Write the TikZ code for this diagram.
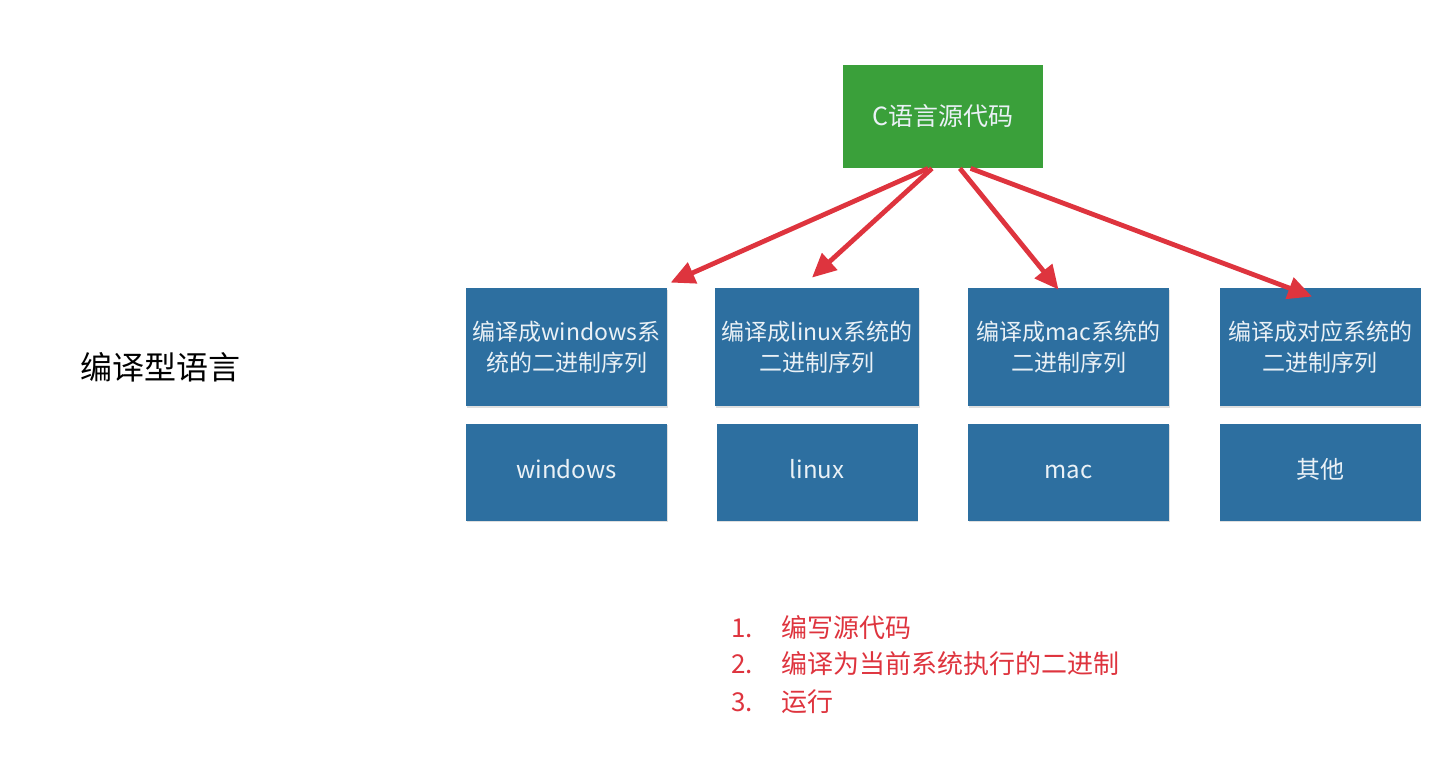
\documentclass[tikz,border=0pt]{standalone}
\usepackage{fontspec}
\setmainfont{Noto Sans CJK SC}
\usetikzlibrary{arrows.meta,positioning,shadows}

\definecolor{srcgreen}{RGB}{58,160,58}
\definecolor{sysblue}{RGB}{45,111,160}
\definecolor{arrowred}{RGB}{222,52,62}
\definecolor{boxtext}{RGB}{234,241,246}

\begin{document}
\begin{tikzpicture}[x=0.5pt, y=-0.5pt,
  source/.style={fill=srcgreen, minimum width=100pt, minimum height=51.5pt,
                 text=boxtext, font=\fontsize{12.5}{15}\selectfont},
  binary/.style={fill=sysblue, minimum width=100.5pt, minimum height=59pt,
                 align=center, text=boxtext, font=\fontsize{11.5}{15.5}\selectfont,
                 drop shadow={opacity=0.25, shadow xshift=0.4pt, shadow yshift=-0.8pt}},
  platform/.style={binary, minimum height=48.5pt, text height=0.8em, text depth=0.2em,
                   font=\fontsize{12}{14}\selectfont},
  compiles/.style={-{Triangle[length=12pt,width=11pt]}, draw=arrowred, line width=2.4pt},
  stepline/.style={anchor=west, text=arrowred, font=\fontsize{13}{15}\selectfont},
]
\useasboundingbox (0,0) rectangle (1438,763);

\node[font=\fontsize{16}{18}\selectfont] (kind) at (160,367) {编译型语言};

\node[source] (src) at (943,116.5) {C语言源代码};

\node[binary] (wbin) at (566.5,347) {编译成windows系\\统的二进制序列};
\node[binary] (lbin) at (817,347) {编译成linux系统的\\二进制序列};
\node[binary] (mbin) at (1068.5,347) {编译成mac系统的\\二进制序列};
\node[binary] (obin) at (1320,347) {编译成对应系统的\\二进制序列};

\node[platform, below=8.5pt of wbin] (win) {windows};
\node[platform, below=8.5pt of lbin] (lin) {linux};
\node[platform, below=8.5pt of mbin] (mac) {mac};
\node[platform, below=8.5pt of obin] (oth) {其他};

\draw[compiles] (src.-106) -- ([xshift=1.5pt,yshift=2.5pt]wbin.north east);
\draw[compiles] (src.-102) -- ([xshift=-2.5pt,yshift=5pt]lbin.north);
\draw[compiles] (src.-72) -- ([xshift=-5pt,yshift=-1pt]mbin.north);
\draw[compiles] (src.-62) -- ([xshift=-4pt,yshift=-4.5pt]obin.north);

\node[stepline] (item1) at (724,628) {\makebox[25pt][l]{1.}编写源代码};
\node[stepline] (item2) at (724,664) {\makebox[25pt][l]{2.}编译为当前系统执行的二进制};
\node[stepline] (item3) at (724,702) {\makebox[25pt][l]{3.}运行};

\end{tikzpicture}
\end{document}
